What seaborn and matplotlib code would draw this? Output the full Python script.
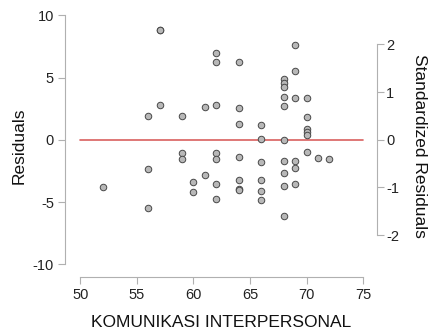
import numpy as np
import pandas as pd
import matplotlib
matplotlib.use("Agg")
import matplotlib.pyplot as plt
import seaborn as sns

# predictor values (KOMUNIKASI INTERPERSONAL) and residuals
x_vals = [52,
          56, 56, 56,
          57, 57, 57,
          59, 59, 59,
          60, 60,
          61, 61,
          62, 62, 62, 62, 62, 62, 62,
          64, 64, 64, 64, 64, 64, 64,
          66, 66, 66, 66, 66, 66,
          68, 68, 68, 68, 68, 68, 68, 68, 68, 68,
          69, 69, 69, 69, 69, 69,
          70, 70, 70, 70, 70, 70,
          71, 72]
residuals = [-3.77,
             1.89, -2.37, -5.45,
             8.82, 8.82, 2.77,
             1.91, -1.08, -1.57,
             -3.36, -4.22,
             2.66, -2.80,
             6.95, 6.22, 2.77, -1.08, -1.57, -3.55, -4.78,
             6.25, 2.55, 1.27, -1.41, -3.20, -3.92, -4.00,
             1.16, 0.04, -1.76, -3.20, -4.15, -4.80,
             4.85, 4.55, 4.25, 3.41, 2.75, 0.0, -1.74, -2.69, -3.71, -6.10,
             7.61, 5.53, 3.33, -1.70, -2.24, -3.55,
             3.38, 1.81, 0.84, 0.62, 0.41, -0.95,
             -1.49, -1.54]
resid_sd = 3.83

df = pd.DataFrame({"x": x_vals, "resid": residuals})

sns.set_style("white")
plt.rcParams["font.family"] = ["Liberation Sans", "DejaVu Sans"]
plt.rcParams["axes.unicode_minus"] = False
GREY = "#b0b0b0"

fig = plt.figure(figsize=(4.31, 3.34), dpi=100)
ax = fig.add_axes([0.1508, 0.1707, 0.723, 0.7835])

sns.lineplot(x=[50, 75], y=[0, 0], color="#d9605f", linewidth=1.2, ax=ax)
sns.scatterplot(data=df, x="x", y="resid", s=22, color="#b8b8b8",
                edgecolor="#484848", linewidth=0.7, ax=ax, zorder=3)

ax.set_xlim(48.65, 76.18)
ax.set_ylim(-11.02, 10)
ax.set_xticks([50, 55, 60, 65, 70, 75])
ax.set_yticks([-10, -5, 0, 5, 10])
ax.set_xlabel("KOMUNIKASI INTERPERSONAL", fontsize=12.5, labelpad=9, color="#111111")
ax.set_ylabel("Residuals", fontsize=12.5, labelpad=4, color="#111111")
for side in ["top", "right"]:
    ax.spines[side].set_visible(False)
ax.spines["left"].set_bounds(-10, 10)
ax.spines["bottom"].set_bounds(50, 75)
for side in ["left", "bottom"]:
    ax.spines[side].set_color(GREY)
ax.tick_params(axis="both", direction="out", length=5, width=0.8,
               color=GREY, labelsize=10.5, labelcolor="#222222", pad=3)
ax.tick_params(left=True, bottom=True)

ax2 = ax.twinx()
ax2.set_ylim(-11.02 / resid_sd, 10 / resid_sd)
ax2.set_yticks([-2, -1, 0, 1, 2])
ax2.set_ylabel("Standardized Residuals", fontsize=12.5, rotation=270,
               labelpad=20, color="#111111")
for side in ["top", "left", "bottom"]:
    ax2.spines[side].set_visible(False)
ax2.spines["right"].set_bounds(-2, 2)
ax2.spines["right"].set_color(GREY)
ax2.tick_params(axis="y", direction="out", length=5, width=0.8, right=True,
                color=GREY, labelsize=10.5, labelcolor="#222222", pad=2)

fig.savefig("out.png", dpi=100)
